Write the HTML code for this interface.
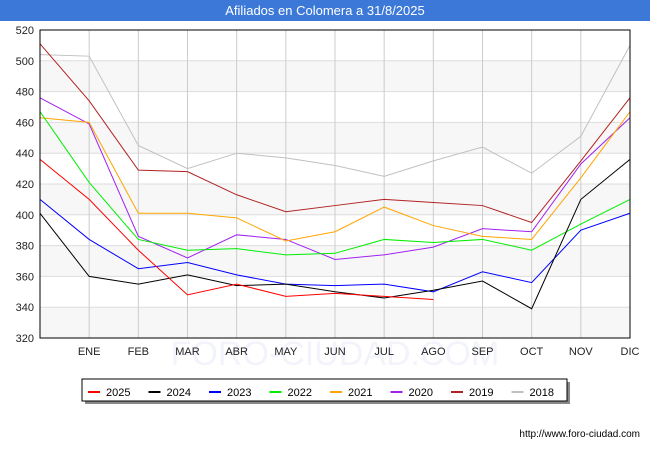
<!DOCTYPE html>
<html><head><meta charset="utf-8"><style>
body{margin:0;background:#fff;font-family:"Liberation Sans",sans-serif;}
#wrap{position:relative;width:650px;height:450px;overflow:hidden;}
#title{position:absolute;left:0;top:0;width:650px;height:21px;background:#3b78d8;color:#fff;font-size:13px;text-align:center;line-height:22px;}
</style></head><body>
<div id="wrap">
<div id="title">Afiliados en Colomera a 31/8/2025</div>
<svg id="chart" width="650" height="450" style="position:absolute;left:0;top:0"></svg>
</div>
<script>
const categories=["","ENE","FEB","MAR","ABR","MAY","JUN","JUL","AGO","SEP","OCT","NOV","DIC"];
const yTicks=[320,340,360,380,400,420,440,460,480,500,520];
const seriesNames=["2025","2024","2023","2022","2021","2020","2019","2018"];
const seriesColors=["#ff0000","#000000","#0000ff","#00ee00","#ffa500","#a020f0","#b22222","#c0c0c0"];
const s2025=[436,410,377,348,355,347,349,347,345];
const s2024=[401,360,355,361,354,355,350,346,351,357,339,410,436];
const s2023=[410,384,365,369,361,355,354,355,350,363,356,390,401];
const s2022=[467,421,384,377,378,374,375,384,382,384,377,394,410];
const s2021=[463,460,401,401,398,383,389,405,393,386,384,424,467];
const s2020=[476,459,386,372,387,384,371,374,379,391,389,433,463];
const s2019=[511,474,429,428,413,402,406,410,408,406,395,435,476];
const s2018=[504,503,445,430,440,437,432,425,435,444,427,451,510];
const seriesData=[s2025,s2024,s2023,s2022,s2021,s2020,s2019,s2018];

const NS="http://www.w3.org/2000/svg";
const svg=document.getElementById('chart');
const L=40,R=630,T=30,B=338,yMin=320,yMax=520;
const xPos=i=>L+(R-L)*i/(categories.length-1);
const yPos=v=>B-(v-yMin)/(yMax-yMin)*(B-T);
function mk(tag,attrs){const e=document.createElementNS(NS,tag);for(const k in attrs)e.setAttribute(k,attrs[k]);svg.appendChild(e);return e;}

for(let i=0;i<yTicks.length-1;i++){
  if(i%2===0){
    const b=mk('rect',{x:L,y:yPos(yTicks[i+1]),width:R-L,height:yPos(yTicks[i])-yPos(yTicks[i+1]),fill:'#f7f7f7'});
    
    
  }
}
yTicks.forEach(v=>{
  const g=mk('line',{x1:L,x2:R,y1:yPos(v),y2:yPos(v),stroke:'#dddddd','stroke-width':1});
  
  
  const t=mk('text',{x:L-6,y:yPos(v)+4,'text-anchor':'end','font-size':11,fill:'#222'});
  t.textContent=v;
  
  
});
const wm=mk('text',{x:335,y:365,'text-anchor':'middle','font-size':34,fill:'#f3f4fb'});
wm.textContent='FORO-CIUDAD.COM';


categories.forEach((c,i)=>{
  if(i===0)return;
  const g=mk('line',{x1:xPos(i),x2:xPos(i),y1:T,y2:B,stroke:'#cccccc','stroke-width':1});
  
  
  const t=mk('text',{x:xPos(i),y:B+17,'text-anchor':'middle','font-size':11,fill:'#222'});
  t.textContent=c;
  
  
});

for(let s=seriesData.length-1;s>=0;s--){
  const pts=seriesData[s].map((v,i)=>xPos(i)+','+yPos(v)).join(' ');
  const p=mk('polyline',{points:pts,fill:'none',stroke:seriesColors[s],'stroke-width':1});
  
  
}
const frame=mk('rect',{x:L,y:T,width:R-L,height:B-T,fill:'none',stroke:'#000','stroke-width':1});



const sh=mk('rect',{x:85,y:382,width:485,height:22,fill:'#888'});


const lb=mk('rect',{x:82,y:379,width:485,height:22,fill:'#fff',stroke:'#000','stroke-width':1});


seriesNames.forEach((n,i)=>{
  const x0=88+i*60.5;
  const l=mk('line',{x1:x0,x2:x0+12,y1:392,y2:392,stroke:seriesColors[i],'stroke-width':2});
  
  
  const t=mk('text',{x:x0+18,y:396,'font-size':11,fill:'#000'});
  t.textContent=n;
  
  
});
const url=mk('text',{x:640,y:437,'text-anchor':'end','font-size':10,fill:'#000'});
url.textContent='http://www.foro-ciudad.com';


</script>
</body></html>
